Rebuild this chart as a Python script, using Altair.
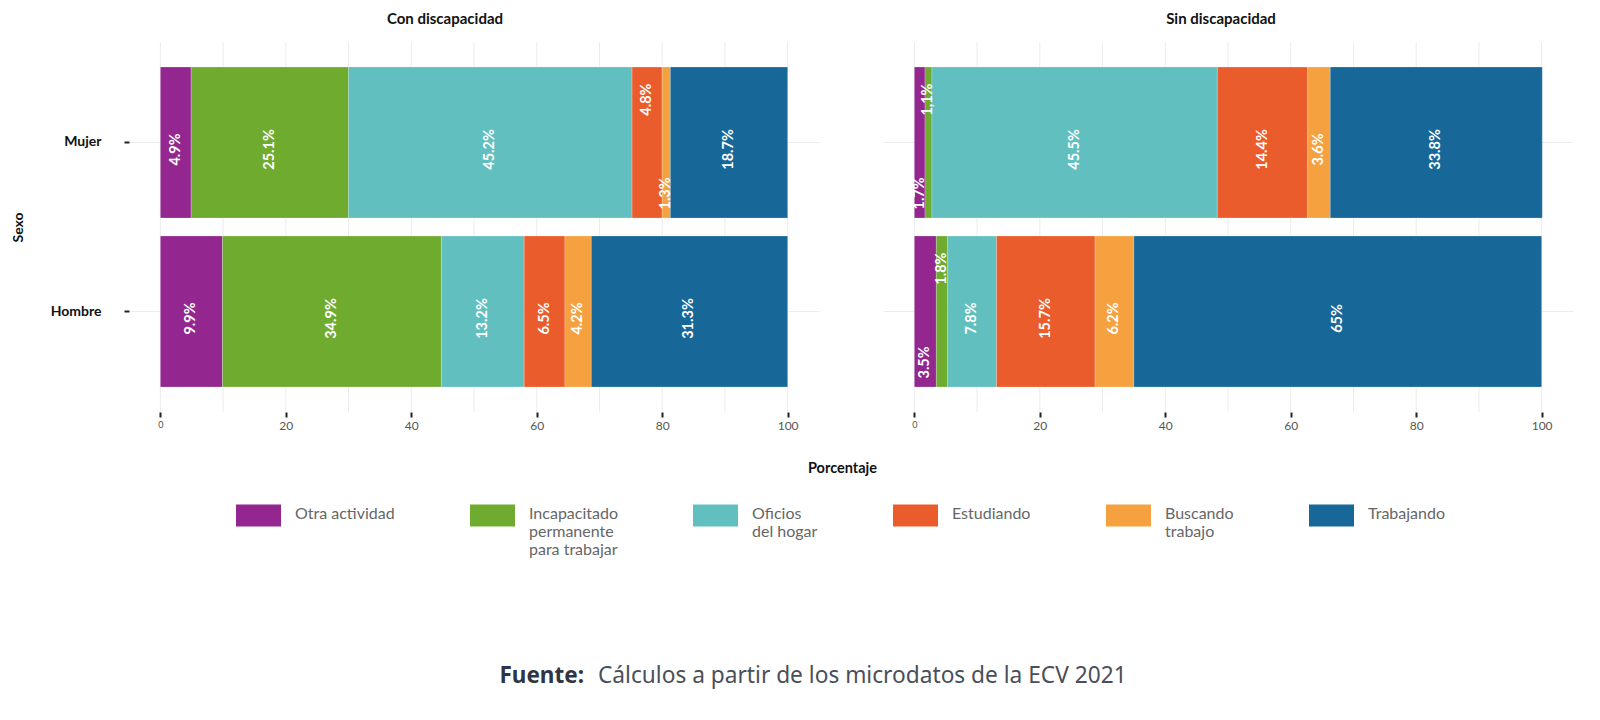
import altair as alt
import pandas as pd

# ---------------- data ----------------
categories = ["Otra actividad", "Incapacitado permanente para trabajar", "Oficios del hogar",
              "Estudiando", "Buscando trabajo", "Trabajando"]
legend_lines = [["Otra actividad"], ["Incapacitado", "permanente", "para trabajar"],
                ["Oficios", "del hogar"], ["Estudiando"], ["Buscando", "trabajo"], ["Trabajando"]]
colors = ["#93278F", "#6EAB2F", "#61C0BF", "#EB5C2C", "#F6A13F", "#176899"]
panels = ["Con discapacidad", "Sin discapacidad"]
sexes = ["Mujer", "Hombre"]

con_mujer = [4.9, 25.1, 45.2, 4.8, 1.3, 18.7]
con_hombre = [9.9, 34.9, 13.2, 6.5, 4.2, 31.3]
sin_mujer = [1.7, 1.1, 45.5, 14.4, 3.6, 33.8]
sin_hombre = [3.5, 1.8, 7.8, 15.7, 6.2, 65]

x_ticks = [0, 20, 40, 60, 80, 100]
x_grid = [0, 10, 20, 30, 40, 50, 60, 70, 80, 90, 100]

x_title = "Porcentaje"
y_title = "Sexo"
source_bold = "Fuente:"
source_text = "Cálculos a partir de los microdatos de la ECV 2021"

# label placement inside narrow segments (as in the reference)
label_place = {
    ("Con discapacidad", "Mujer", "Estudiando"): "top",
    ("Con discapacidad", "Mujer", "Buscando trabajo"): "bottom",
    ("Sin discapacidad", "Mujer", "Otra actividad"): "bottom",
    ("Sin discapacidad", "Mujer", "Incapacitado permanente para trabajar"): "top",
    ("Sin discapacidad", "Hombre", "Otra actividad"): "bottom",
    ("Sin discapacidad", "Hombre", "Incapacitado permanente para trabajar"): "top",
}
label_text_override = {
    ("Sin discapacidad", "Mujer", "Incapacitado permanente para trabajar"): "1,1%",
}

series = {
    ("Con discapacidad", "Mujer"): con_mujer,
    ("Con discapacidad", "Hombre"): con_hombre,
    ("Sin discapacidad", "Mujer"): sin_mujer,
    ("Sin discapacidad", "Hombre"): sin_hombre,
}

rows = []
for (pn, sx), vals in series.items():
    acc = 0.0
    for i, (c, v) in enumerate(zip(categories, vals)):
        key = (pn, sx, c)
        lab = label_text_override.get(key, f"{v:g}%")
        rows.append(dict(panel=pn, sexo=sx, cat=c, idx=i, value=v, x0=acc, x1=acc + v,
                         mid=acc + v / 2, label=lab, pos=label_place.get(key, "mid")))
        acc += v
df = pd.DataFrame(rows)

FONT = "Lato"
DARK = "#111111"

legend_expr = " : ".join(
    f"datum.label == '{c}' ? {lines!r}" for c, lines in zip(categories, legend_lines)
) + " : datum.label"

color_enc = alt.Color(
    "cat:N",
    scale=alt.Scale(domain=categories, range=colors),
    legend=alt.Legend(
        orient="none", legendX=107, legendY=441, direction="horizontal", title=None,
        symbolType="M-1,-0.05H1V0.93H-1Z", symbolSize=2025, symbolStrokeWidth=0,
        symbolOpacity=1, labelFont=FONT, labelFontSize=16, labelColor="#666666",
        labelOffset=14, columnPadding=75, gridAlign="none", labelBaseline="top",
        labelExpr=legend_expr, labelLimit=300,
    ),
)


def make_panel(name, first):
    d = df[df.panel == name]
    xs = alt.Scale(domain=[-5, 105], nice=False, zero=False)
    ys = alt.Scale(domain=sexes, paddingInner=0.107, paddingOuter=0.148)
    if first:
        yaxis = alt.Axis(title=y_title, titleFont=FONT, titleFontSize=14, titleFontWeight="bold",
                         titleColor=DARK, titlePadding=25, labelFont=FONT, labelFontSize=14,
                         labelFontWeight="bold", labelColor=DARK, labelPadding=23, tickSize=5,
                         tickWidth=2, tickColor="#222222", domain=False, grid=True,
                         gridColor="#ececec", bandPosition=0.5)
        xaxis = alt.Axis(values=x_ticks, title=x_title, titleFont=FONT, titleFontSize=14.5,
                         titleFontWeight="bold", titleColor=DARK, titleX=713, titleY=56,
                         titleBaseline="middle", titleAlign="center",
                         labelFont=FONT, labelColor="#555555",
                         labelFontSize={"condition": {"test": "datum.value == 0", "value": 9}, "value": 12},
                         labelPadding=3, tickSize=5, tickWidth=2, tickColor="#222222",
                         domain=False, grid=False)
    else:
        yaxis = alt.Axis(title=None, labels=False, ticks=False, domain=False, grid=True,
                         gridColor="#ececec", bandPosition=0.5)
        xaxis = alt.Axis(values=x_ticks, title=None, labelFont=FONT, labelColor="#555555",
                         labelFontSize={"condition": {"test": "datum.value == 0", "value": 9}, "value": 12},
                         labelPadding=3, tickSize=5, tickWidth=2, tickColor="#222222",
                         domain=False, grid=False)

    grid = alt.Chart(pd.DataFrame({"g": x_grid})).mark_rule(color="#ececec", strokeWidth=1).encode(
        x=alt.X("g:Q", scale=xs, axis=xaxis)
    )
    base = alt.Chart(d).encode(
        y=alt.Y("sexo:N", scale=ys, axis=yaxis, sort=sexes),
    )
    bars = base.mark_bar(stroke="white", strokeWidth=0.6, strokeOpacity=0.35).encode(
        x=alt.X("x0:Q", scale=xs, axis=xaxis),
        x2="x1:Q",
        color=color_enc,
        order=alt.Order("idx:Q"),
    )
    tkw = dict(angle=270, baseline="middle", color="white", font=FONT, fontSize=14.5,
               fontWeight="bold")
    t_mid = base.transform_filter(alt.datum.pos == "mid").mark_text(align="center", dx=-7, **tkw).encode(
        x=alt.X("mid:Q", scale=xs, axis=xaxis), text="label:N")
    t_top = base.transform_filter(alt.datum.pos == "top").mark_text(align="right", dx=59, **tkw).encode(
        x=alt.X("mid:Q", scale=xs, axis=xaxis), text="label:N")
    t_bot = base.transform_filter(alt.datum.pos == "bottom").mark_text(align="left", dx=-67, **tkw).encode(
        x=alt.X("mid:Q", scale=xs, axis=xaxis), text="label:N")

    layers = [grid, bars, t_mid, t_top, t_bot]
    if first:
        cap_df = pd.DataFrame({"a": [source_bold], "b": [source_text]})
        cap1 = alt.Chart(cap_df).mark_text(align="right", baseline="middle", font="Noto Sans",
                                           fontSize=22.5, fontWeight="bold", color="#2f3542").encode(
            text="a:N", x=alt.value(455), y=alt.value(634))
        cap2 = alt.Chart(cap_df).mark_text(align="left", baseline="middle", font="Noto Sans",
                                           fontSize=22.7, color="#4a4f5a").encode(
            text="b:N", x=alt.value(469), y=alt.value(634))
        layers += [cap1, cap2]

    return alt.layer(*layers).properties(
        width=690, height=370,
        title=alt.TitleParams(name, font=FONT, fontSize=15, fontWeight="bold", color=DARK,
                              offset=15, dx=-29 if first else -7, anchor="middle"),
    )


chart = alt.hconcat(make_panel(panels[0], True), make_panel(panels[1], False),
                    spacing=64, bounds="flush").properties(
    padding={"left": 3, "top": 3, "right": 5, "bottom": 5},
    background="white",
).configure_view(stroke=None)

chart.save("out.html", embed_options={"renderer": "svg", "actions": False})
